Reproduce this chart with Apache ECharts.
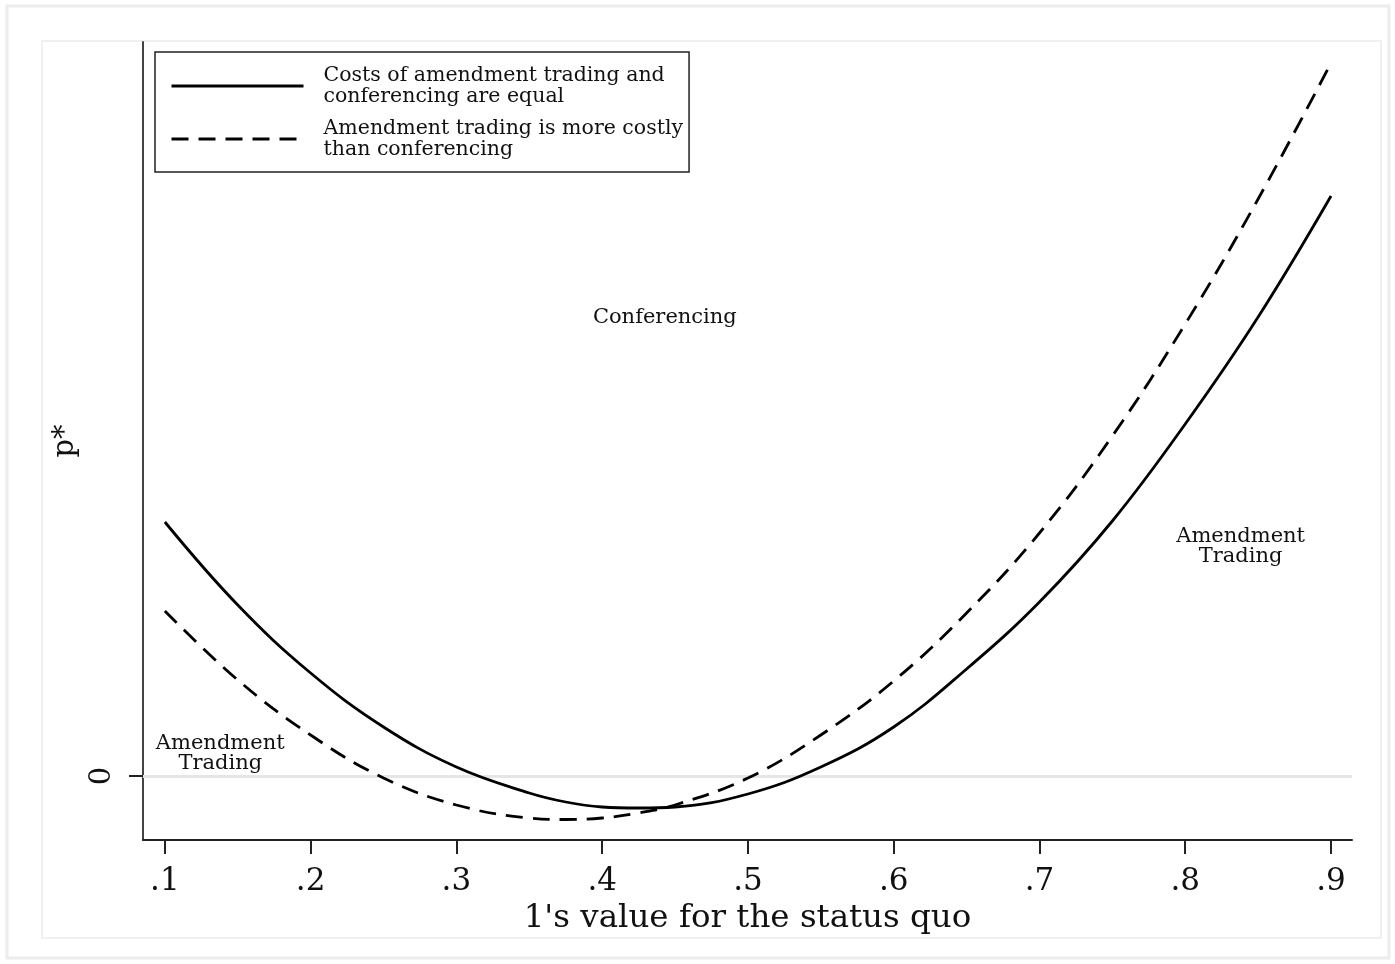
<!DOCTYPE html>
<html>
<head>
<meta charset="utf-8">
<title>p* by 1's value for the status quo</title>
<script src="https://cdn.jsdelivr.net/npm/echarts@6/dist/echarts.min.js"></script>
<style>
  html, body { margin: 0; padding: 0; background: #fff; }
  #chart { width: 1395px; height: 964px; }
</style>
</head>
<body>
<div id="chart"></div>
<script>
// values (y in arbitrary units, 0 = the reference line)
var xValues = [0.10, 0.15, 0.20, 0.25, 0.30, 0.35, 0.375, 0.40, 0.425, 0.45, 0.50,
               0.55, 0.60, 0.65, 0.70, 0.75, 0.80, 0.85, 0.90];
var equalCost = [0.254, 0.171, 0.103, 0.049, 0.009, -0.017, -0.026, -0.031, -0.032, -0.031, -0.018,
                 0.009, 0.049, 0.107, 0.174, 0.255, 0.352, 0.459, 0.580];
var tradingCostly = [0.165, 0.096, 0.041, -0.002, -0.029, -0.042, -0.0435, -0.042, -0.037, -0.029, -0.002,
                     0.041, 0.095, 0.163, 0.243, 0.340, 0.452, 0.577, 0.713];
var xTicks = [0.1, 0.2, 0.3, 0.4, 0.5, 0.6, 0.7, 0.8, 0.9];
var yTicks = [0];
var seriesNames = ['Costs of amendment trading and\nconferencing are equal',
                   'Amendment trading is more costly\nthan conferencing'];
var regionLabels = ['Conferencing', 'Amendment\nTrading', 'Amendment\nTrading'];
var regionX = [0.443, 0.138, 0.838];
var regionY = [0.458, 0.022, 0.229];

var font = 'DejaVu Serif';

function pairs(xs, ys) {
    return xs.map(function(x, i) { return [x, ys[i]]; });
}

var chart = echarts.init(document.getElementById('chart'));

var option = {
    animation: false,
    backgroundColor: '#fff',
    textStyle: { fontFamily: font },
    grid: { left: 143, right: 43, top: 42, bottom: 124 },
    graphic: [
        // outer frame and the faint plot-region frame
        { type: 'rect', shape: { x: 7, y: 6, width: 1382, height: 952 },
          style: { fill: 'none', stroke: '#ececec', lineWidth: 3 }, silent: true, z: -10 },
        { type: 'rect', shape: { x: 42, y: 41, width: 1339, height: 897 },
          style: { fill: 'none', stroke: '#f0f0f0', lineWidth: 2 }, silent: true, z: -10 }
    ],
    legend: {
        orient: 'vertical',
        left: 155,
        top: 52,
        padding: [13, 6, 12, 15],
        itemGap: 11,
        itemWidth: 132,
        itemHeight: 14,
        borderColor: '#222',
        borderWidth: 1.5,
        borderRadius: 0,
        itemStyle: { opacity: 0 },
        lineStyle: { width: 3 },
        data: seriesNames,
        textStyle: {
            fontFamily: font,
            fontSize: 20.5,
            lineHeight: 21,
            color: '#111',
            padding: [0, 0, 0, 15]
        }
    },
    xAxis: {
        type: 'value',
        min: 0.085,
        max: 0.9144,
        name: "1's value for the status quo",
        nameLocation: 'middle',
        nameGap: 54,
        nameTextStyle: { fontFamily: font, fontSize: 32.5, color: '#111' },
        axisLine: { show: true, onZero: false, lineStyle: { color: '#222', width: 2 } },
        axisTick: { show: true, inside: false, customValues: xTicks, length: 14, lineStyle: { color: '#222', width: 2 } },
        axisLabel: {
            customValues: xTicks,
            margin: 26,
            fontFamily: font,
            fontSize: 31,
            color: '#111',
            formatter: function(v) { return String(Math.round(v * 10) / 10).replace(/^0/, ''); }
        },
        splitLine: { show: false }
    },
    yAxis: {
        type: 'value',
        min: -0.064,
        max: 0.734,
        name: 'p*',
        nameLocation: 'middle',
        nameGap: 58,
        nameTextStyle: { fontFamily: font, fontSize: 29, color: '#111' },
        axisLine: { show: true, onZero: false, lineStyle: { color: '#444', width: 2 } },
        axisTick: { show: true, customValues: yTicks, length: 14, lineStyle: { color: '#222', width: 2 } },
        axisLabel: {
            customValues: yTicks,
            rotate: 90,
            margin: 26,
            fontFamily: font,
            fontSize: 29,
            color: '#111'
        },
        splitLine: { show: false }
    },
    series: [
        {
            name: seriesNames[0],
            type: 'line',
            smooth: 0.4,
            symbol: 'none',
            data: pairs(xValues, equalCost),
            lineStyle: { color: '#000', width: 2.8, type: 'solid' },
            itemStyle: { color: '#000' },
            z: 3,
            markLine: {
                silent: true,
                symbol: ['none', 'none'],
                label: { show: false },
                lineStyle: { color: '#e6e6e6', width: 3, type: 'solid' },
                data: [{ yAxis: 0 }],
                z: 1
            },
            markPoint: {
                silent: true,
                symbol: 'circle',
                symbolSize: 0,
                label: {
                    show: true,
                    position: 'inside',
                    fontFamily: font,
                    fontSize: 21,
                    lineHeight: 20,
                    color: '#111',
                    align: 'center',
                    formatter: function(p) { return p.name; }
                },
                data: regionLabels.map(function(t, i) {
                    return { name: t, coord: [regionX[i], regionY[i]] };
                })
            }
        },
        {
            name: seriesNames[1],
            type: 'line',
            smooth: 0.4,
            symbol: 'none',
            data: pairs(xValues, tradingCostly),
            lineStyle: { color: '#000', width: 2.8, type: [17, 10] },
            itemStyle: { color: '#000' },
            z: 3
        }
    ]
};

chart.setOption(option);
</script>
</body>
</html>
